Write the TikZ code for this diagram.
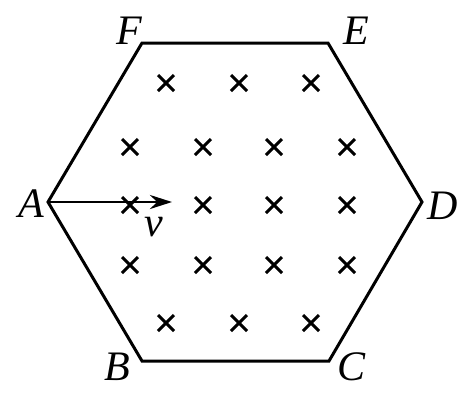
\documentclass[tikz,border=0pt]{standalone}
\usepackage{fontspec}
\setmainfont{Liberation Serif}
\usetikzlibrary{arrows.meta}
\begin{document}
\begin{tikzpicture}[x=1pt,y=-1pt,
  hexline/.style={line width=3pt, line join=miter},
  lbl/.style={font=\fontsize{42}{44}\selectfont\itshape, inner sep=0pt},
  xmark/.style={line width=3pt},
  vel/.style={line width=2.8pt, -{Stealth[length=22pt,width=14pt]}}]
\useasboundingbox (0,0) rectangle (461,392);
\coordinate (A) at (48,202);
\coordinate (F) at (142,43);
\coordinate (E) at (328,43);
\coordinate (D) at (422,202);
\coordinate (C) at (329,361);
\coordinate (B) at (142,361);
\draw[hexline] (A) -- (F) -- (E) -- (D) -- (C) -- (B) -- cycle;
\node[lbl] (lA) at (31,204) {A};
\node[lbl] (lF) at (129,31) {F};
\node[lbl] (lE) at (356,31) {E};
\node[lbl] (lD) at (443,206) {D};
\node[lbl] (lB) at (117,367) {B};
\node[lbl] (lC) at (352,367) {C};
\foreach \p in {(166,83),(239,83),(311,83),
  (130,147),(203,147),(274,147),(347,147),
  (130,205),(203,205),(274,205),(347,205),
  (130,265),(203,265),(274,265),(347,265),
  (166,323),(239,323),(311,323)}{
  \draw[xmark] \p ++(-8,-8) -- ++(16,16) \p ++(-8,8) -- ++(16,-16);
}
\coordinate (vend) at (172,202);
\draw[vel] (A) -- (vend);
\node[lbl] (lv) at (154,227) {v};
\end{tikzpicture}
\end{document}
